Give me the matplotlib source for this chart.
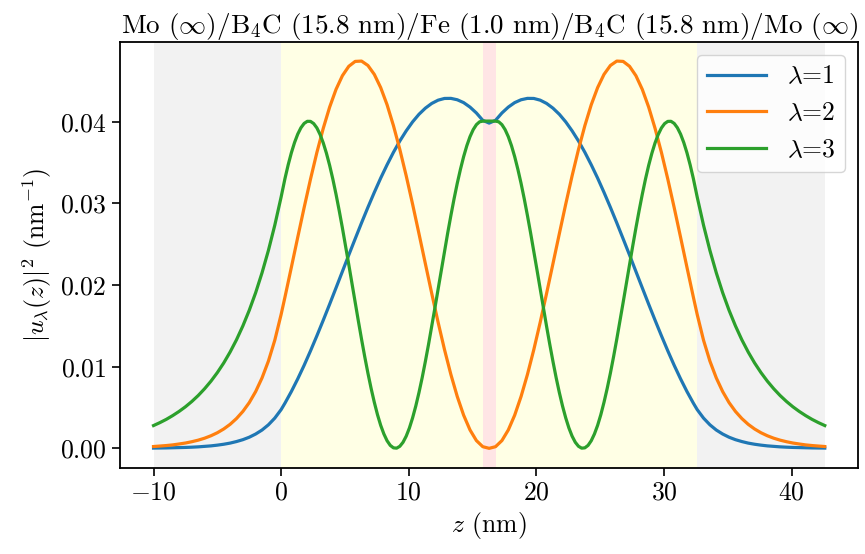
import matplotlib
matplotlib.use("Agg")
import matplotlib.pyplot as plt

# Mise en forme type LaTeX
plt.rcParams['mathtext.fontset'] = 'cm'
plt.rcParams['font.family'] = 'serif'
plt.rcParams['font.serif'] = ['cmr10']
plt.rcParams['axes.formatter.use_mathtext'] = True
plt.rcParams['font.size'] = 18.5

# Profondeur z (nm) pour les modes 1 et 2
z = [-10.0, -9.5, -9.0, -8.5, -8.0, -7.5, -7.0, -6.5, -6.0, -5.5, -5.0, -4.5, -4.0, -3.5, -3.0, -2.5, -2.0, -1.5, -1.0, -0.5, 0.0,
     0.3, 0.8, 1.3, 1.8, 2.3, 2.8, 3.3, 3.8, 4.3, 4.8, 5.3, 5.8, 6.3, 6.8, 7.3, 7.8,
     8.3, 8.8, 9.3, 9.8, 10.3, 10.8, 11.3, 11.8, 12.3, 12.8, 13.3, 13.8, 14.3, 14.8, 15.3, 15.8,
     16.3,
     16.8, 17.3, 17.8, 18.3, 18.8, 19.3, 19.8, 20.3, 20.8, 21.3, 21.8, 22.3, 22.8, 23.3, 23.8, 24.3,
     24.8, 25.3, 25.8, 26.3, 26.8, 27.3, 27.8, 28.3, 28.8, 29.3, 29.8, 30.3, 30.8, 31.3, 31.8, 32.3,
     32.6, 33.1, 33.6, 34.1, 34.6, 35.1, 35.6, 36.1, 36.6, 37.1, 37.6, 38.1, 38.6, 39.1, 39.6, 40.1, 40.6, 41.1, 41.6, 42.1, 42.6]

# Profondeur z (nm) pour le mode 3 (plus fin dans le guide)
z3 = [-10.0, -9.5, -9.0, -8.5, -8.0, -7.5, -7.0, -6.5, -6.0, -5.5, -5.0, -4.5, -4.0, -3.5, -3.0, -2.5, -2.0, -1.5, -1.0, -0.5, 0.0,
      0.3, 0.55, 0.8, 1.05, 1.3, 1.55, 1.8, 2.05, 2.3, 2.55, 2.8, 3.05, 3.3, 3.55, 3.8, 4.05,
      4.3, 4.55, 4.8, 5.05, 5.3, 5.55, 5.8, 6.05, 6.3, 6.55, 6.8, 7.05, 7.3, 7.55, 7.8, 8.05,
      8.3, 8.55, 8.8, 9.05, 9.3, 9.55, 9.8, 10.05, 10.3, 10.55, 10.8, 11.05, 11.3, 11.55, 11.8, 12.05,
      12.3, 12.55, 12.8, 13.05, 13.3, 13.55, 13.8, 14.05, 14.3, 14.55, 14.8, 15.05, 15.3, 15.55, 15.8, 16.05,
      16.3,
      16.55, 16.8, 17.05, 17.3, 17.55, 17.8, 18.05, 18.3, 18.55, 18.8, 19.05, 19.3, 19.55, 19.8, 20.05, 20.3,
      20.55, 20.8, 21.05, 21.3, 21.55, 21.8, 22.05, 22.3, 22.55, 22.8, 23.05, 23.3, 23.55, 23.8, 24.05, 24.3,
      24.55, 24.8, 25.05, 25.3, 25.55, 25.8, 26.05, 26.3, 26.55, 26.8, 27.05, 27.3, 27.55, 27.8, 28.05, 28.3,
      28.55, 28.8, 29.05, 29.3, 29.55, 29.8, 30.05, 30.3, 30.55, 30.8, 31.05, 31.3, 31.55, 31.8, 32.05, 32.3,
      32.6, 33.1, 33.6, 34.1, 34.6, 35.1, 35.6, 36.1, 36.6, 37.1, 37.6, 38.1, 38.6, 39.1, 39.6, 40.1, 40.6, 41.1, 41.6, 42.1, 42.6]

# |u_lambda(z)|^2
mode1 = [0.00003, 0.00004, 0.00005, 0.00007, 0.00009, 0.00011, 0.00014, 0.00018, 0.00024, 0.00030,
         0.00039, 0.00050, 0.00064, 0.00083, 0.00106, 0.00136, 0.00175, 0.00224, 0.00288, 0.00370, 0.00475,
         0.00554, 0.00696, 0.00851, 0.01017, 0.01194, 0.01379, 0.01570, 0.01766, 0.01966, 0.02167, 0.02369, 0.02567, 0.02763, 0.02953, 0.03136, 0.03311,
         0.03474, 0.03627, 0.03766, 0.03890, 0.04000, 0.04093, 0.04168, 0.04226, 0.04266, 0.04287, 0.04288, 0.04271, 0.04236, 0.04181, 0.04109, 0.04019,
         0.03985,
         0.04019, 0.04109, 0.04181, 0.04236, 0.04271, 0.04288, 0.04287, 0.04266, 0.04226, 0.04168, 0.04093, 0.04000, 0.03890, 0.03766, 0.03627, 0.03474,
         0.03311, 0.03136, 0.02953, 0.02763, 0.02567, 0.02369, 0.02167, 0.01966, 0.01766, 0.01570, 0.01379, 0.01194, 0.01017, 0.00851, 0.00696, 0.00554,
         0.00475, 0.00370, 0.00288, 0.00224, 0.00175, 0.00136, 0.00106, 0.00083, 0.00064, 0.00050,
         0.00039, 0.00030, 0.00024, 0.00018, 0.00014, 0.00011, 0.00009, 0.00007, 0.00005, 0.00004, 0.00003]

mode2 = [0.00022, 0.00028, 0.00034, 0.00042, 0.00053, 0.00065, 0.00081, 0.00100, 0.00124, 0.00154,
         0.00191, 0.00237, 0.00294, 0.00365, 0.00452, 0.00560, 0.00695, 0.00862, 0.01068, 0.01324, 0.01642,
         0.01854, 0.02218, 0.02586, 0.02949, 0.03298, 0.03625, 0.03921, 0.04181, 0.04398, 0.04566, 0.04681, 0.04741, 0.04745, 0.04691, 0.04582, 0.04420,
         0.04210, 0.03954, 0.03662, 0.03339, 0.02992, 0.02630, 0.02263, 0.01898, 0.01544, 0.01210, 0.00905, 0.00635, 0.00406, 0.00225, 0.00095, 0.00020,
         0.00000,
         0.00020, 0.00095, 0.00225, 0.00406, 0.00635, 0.00905, 0.01210, 0.01544, 0.01898, 0.02263, 0.02630, 0.02992, 0.03339, 0.03662, 0.03954, 0.04210,
         0.04420, 0.04582, 0.04691, 0.04745, 0.04741, 0.04681, 0.04566, 0.04398, 0.04181, 0.03921, 0.03625, 0.03298, 0.02949, 0.02586, 0.02218, 0.01854,
         0.01642, 0.01324, 0.01068, 0.00862, 0.00695, 0.00560, 0.00452, 0.00365, 0.00294, 0.00237,
         0.00191, 0.00154, 0.00124, 0.00100, 0.00081, 0.00065, 0.00053, 0.00042, 0.00034, 0.00028, 0.00022]

mode3 = [0.00279, 0.00315, 0.00355, 0.00401, 0.00452, 0.00509, 0.00574, 0.00647, 0.00730, 0.00823,
         0.00928, 0.01046, 0.01180, 0.01330, 0.01500, 0.01691, 0.01906, 0.02150, 0.02424, 0.02733, 0.03081,
         0.03306, 0.03473, 0.03621, 0.03747, 0.03850, 0.03928, 0.03981, 0.04007,
         0.04006, 0.03979, 0.03926, 0.03846, 0.03742, 0.03615, 0.03467, 0.03299,
         0.03113, 0.02912, 0.02700, 0.02479, 0.02251, 0.02019, 0.01788, 0.01560,
         0.01337, 0.01123, 0.00921, 0.00734, 0.00564, 0.00412, 0.00282, 0.00176,
         0.00093, 0.00036, 0.00006, 0.00002, 0.00025, 0.00074, 0.00149, 0.00249,
         0.00373, 0.00518, 0.00683, 0.00865, 0.01064, 0.01274, 0.01494, 0.01721,
         0.01952, 0.02184, 0.02414, 0.02637, 0.02852, 0.03057, 0.03247, 0.03419,
         0.03574, 0.03708, 0.03819, 0.03905, 0.03966, 0.04001, 0.04009, 0.04010,
         0.04010,
         0.04010, 0.04009, 0.04001, 0.03966, 0.03905, 0.03819, 0.03708, 0.03574,
         0.03419, 0.03247, 0.03057, 0.02852, 0.02637, 0.02414, 0.02184, 0.01952,
         0.01721, 0.01494, 0.01274, 0.01064, 0.00865, 0.00683, 0.00518, 0.00373,
         0.00249, 0.00149, 0.00074, 0.00025, 0.00002, 0.00006, 0.00036, 0.00093,
         0.00176, 0.00282, 0.00412, 0.00564, 0.00734, 0.00921, 0.01123, 0.01337,
         0.01560, 0.01788, 0.02019, 0.02251, 0.02479, 0.02700, 0.02912, 0.03113,
         0.03299, 0.03467, 0.03615, 0.03742, 0.03846, 0.03926, 0.03979, 0.04006,
         0.04007, 0.03981, 0.03928, 0.03850, 0.03747, 0.03621, 0.03473, 0.03306,
         0.03081, 0.02733, 0.02424, 0.02150, 0.01906, 0.01691, 0.01500, 0.01330, 0.01180, 0.01046,
         0.00928, 0.00823, 0.00730, 0.00647, 0.00574, 0.00509, 0.00452, 0.00401, 0.00355, 0.00315, 0.00279]

labels = [r'$\lambda$=1', r'$\lambda$=2', r'$\lambda$=3']

# Empilement des couches (nm)
layer_edges = [-10.0, 0.0, 15.8, 16.8, 32.6, 42.6]
layer_colors = ['gray', 'yellow', 'red', 'yellow', 'gray']

fig = plt.figure(figsize=(8.65, 5.54), dpi=100)
ax = fig.add_axes([0.1387, 0.1558, 0.8536, 0.7689])

for i in range(len(layer_colors)):
    ax.axvspan(layer_edges[i], layer_edges[i + 1], color=layer_colors[i], alpha=0.1, lw=0)

ax.plot(z, mode1, lw=2.3, label=labels[0])
ax.plot(z, mode2, lw=2.3, label=labels[1])
ax.plot(z3, mode3, lw=2.3, label=labels[2])

ax.set_title(r'Mo ($\infty$)/B$_4$C (15.8 nm)/Fe (1.0 nm)/B$_4$C (15.8 nm)/Mo ($\infty$)', fontsize=19.5)
ax.set_xlabel(r'$z$ (nm)')
ax.set_ylabel(r'$|u_\lambda(z)|^2$ (nm$^{-1}$)')
ax.set_yticks([0.0, 0.01, 0.02, 0.03, 0.04])
ax.tick_params(length=6, width=1.2)
for sp in ax.spines.values():
    sp.set_linewidth(1.3)
ax.legend(loc='upper right', handlelength=2.3)

fig.savefig('out.png', dpi=100)
